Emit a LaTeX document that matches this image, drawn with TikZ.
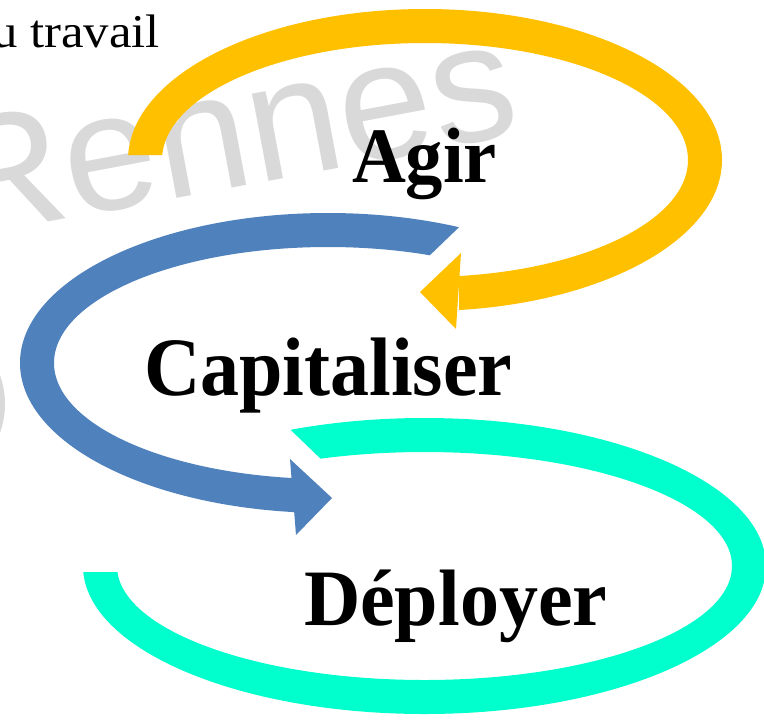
\documentclass[tikz,border=0pt]{standalone}
\usepackage{fontspec}
\setmainfont{Liberation Serif}
\newfontfamily\wmfont{Liberation Sans}
\definecolor{cyel}{RGB}{255,192,0}
\definecolor{cblu}{RGB}{79,129,189}
\definecolor{ccya}{RGB}{0,255,204}
\definecolor{cwm}{RGB}{217,217,217}
\begin{document}
\begin{tikzpicture}[x=1pt,y=-1pt,
  word/.style={inner sep=0pt,outer sep=0pt,anchor=base west,font=\bfseries},
  ring/.style={even odd rule}]
\useasboundingbox (0,0) rectangle (764,721);
\clip (0,0) rectangle (764,721);
\fill[white] (0,0) rectangle (764,721);
% watermark
\node[inner sep=0pt,anchor=base west,rotate=10.6,text=cwm,font=\wmfont\fontsize{168}{172}\selectfont] (wm) at (-46,240) {Rennes};
\fill[cwm] (-79,404) circle[radius=84];
% top-left text
\node[inner sep=0pt,anchor=base east,xscale=1.08,font=\fontsize{47}{50}\selectfont] (trav) at (160,47) {u travail};
% yellow
\begin{scope}
\clip (100,155) -- (425,155) -- (459,260) -- (459,330) -- (770,330) -- (770,-10) -- (100,-10) -- cycle;
\fill[cyel,ring] (425,160) ellipse[x radius=297,y radius=151] (425,160) ellipse[x radius=263,y radius=117];
\end{scope}
\fill[cyel] (461,253) -- (420,292) -- (456,329) -- cycle;
% blue
\begin{scope}
\clip (480,150) -- (480,207) -- (400,284) -- (295,440) -- (295,560) -- (-10,560) -- (-10,150) -- cycle;
\fill[cblu,ring] (328,363) ellipse[x radius=308,y radius=150] (328,363) ellipse[x radius=274,y radius=116];
\end{scope}
\fill[cblu] (290,459) -- (332,498) -- (296,535) -- cycle;
% cyan
\begin{scope}
\clip (270,410) -- (350,487) -- (200,572) -- (60,572) -- (60,730) -- (780,730) -- (780,380) -- (270,380) -- cycle;
\fill[ccya,ring] (424.5,566) ellipse[x radius=341.5,y radius=148] (424.5,566) ellipse[x radius=307.5,y radius=114];
\end{scope}
% labels
\node[word,xscale=0.95,font=\bfseries\fontsize{78.5}{80}\selectfont] (agir) at (352,182) {Agir};
\node[word,xscale=0.94,font=\bfseries\fontsize{83}{86}\selectfont] (cap) at (144,395) {Capitaliser};
\node[word,xscale=0.975,font=\bfseries\fontsize{80}{84}\selectfont] (dep) at (304,625) {Déployer};
\end{tikzpicture}
\end{document}
